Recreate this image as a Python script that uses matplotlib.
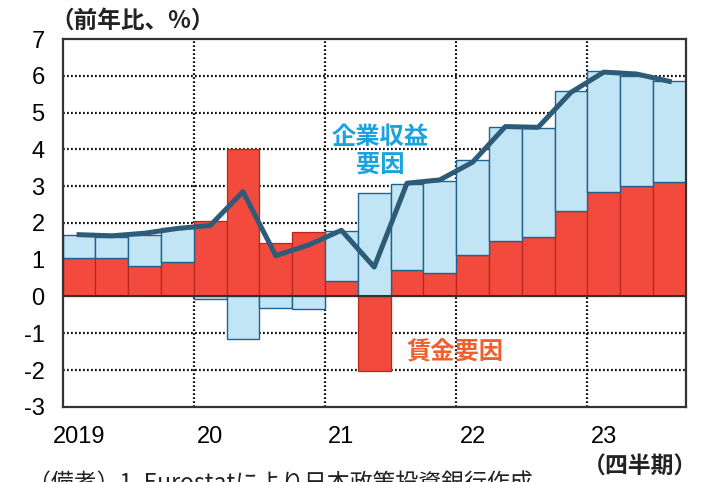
import matplotlib
matplotlib.use("Agg")
import matplotlib.pyplot as plt
import numpy as np

plt.rcParams['font.family'] = ['Liberation Sans', 'Noto Sans CJK JP', 'DejaVu Sans']

quarters = ["2019Q1", "2019Q2", "2019Q3", "2019Q4",
            "2020Q1", "2020Q2", "2020Q3", "2020Q4",
            "2021Q1", "2021Q2", "2021Q3", "2021Q4",
            "2022Q1", "2022Q2", "2022Q3", "2022Q4",
            "2023Q1", "2023Q2", "2023Q3"]
wage = [1.05, 1.05, 0.84, 0.95, 2.04, 4.00, 1.45, 1.75, 0.41, -2.03,
        0.71, 0.64, 1.14, 1.52, 1.62, 2.32, 2.83, 3.00, 3.12]
profit = [0.63, 0.58, 0.82, 0.90, -0.08, -1.15, -0.30, -0.35, 1.38, 2.81,
          2.35, 2.51, 2.57, 3.10, 2.96, 3.26, 3.29, 3.00, 2.75]
total = [1.68, 1.65, 1.72, 1.85, 1.93, 2.85, 1.11, 1.40, 1.80, 0.80,
         3.08, 3.17, 3.65, 4.62, 4.60, 5.55, 6.10, 6.05, 5.85]
year_labels = ["2019", "20", "21", "22", "23"]
yticks = [-3, -2, -1, 0, 1, 2, 3, 4, 5, 6, 7]

fig = plt.figure(figsize=(7.04, 4.82), dpi=100)
ax = fig.add_axes([0.089, 0.156, 0.885, 0.763])

x = np.arange(len(quarters))
w = np.array(wage)
p = np.array(profit)
bottom = np.where(np.sign(p) == np.sign(w), w, 0.0)

# dotted grid (behind bars)
for yv in yticks:
    if yv not in (-3, 0, 7):
        ax.axhline(yv, color='#111111', lw=1.6, ls=(0, (0.8, 1.0)), zorder=1)
for b in [3.5, 7.5, 11.5, 15.5]:
    ax.axvline(b, color='#111111', lw=1.6, ls=(0, (0.8, 1.0)), zorder=1)

ax.bar(x, w, width=1.0, color='#F24B3D', edgecolor='#B8261C', linewidth=0.9, zorder=2)
ax.bar(x, p, width=1.0, bottom=bottom, color='#C2E5F6', edgecolor='#1F6390', linewidth=1.0, zorder=2)
ax.axhline(0, color='#333333', lw=1.5, zorder=3)
ax.plot(x, total, color='#2D5B78', lw=3.6, zorder=4, solid_joinstyle='round')

ax.set_xlim(-0.5, len(quarters) - 0.5)
ax.set_ylim(-3, 7)
ax.set_yticks(yticks)
ax.set_yticklabels([str(v) for v in yticks], fontsize=17)
ax.set_xticks([0, 4, 8, 12, 16])
ax.set_xticklabels(year_labels, fontsize=17)
ax.tick_params(axis='y', length=0, pad=13)
ax.tick_params(axis='x', length=0, pad=14)
for s in ax.spines.values():
    s.set_color('#333333')
    s.set_linewidth(1.6)

cjk = ['Noto Sans CJK JP', 'DejaVu Sans']
fig.text(0.072, 0.958, '（前年比、%）', fontsize=17, family=cjk, weight='semibold', ha='left', va='center', color='#222222')
fig.text(380 / 704, 1 - 137 / 482, '企業収益', fontsize=17.5, family=cjk, weight='bold', color='#1BA3DE', ha='center', va='center')
fig.text(380 / 704, 1 - 165 / 482, '要因', fontsize=17.5, family=cjk, weight='bold', color='#1BA3DE', ha='center', va='center')
fig.text(455 / 704, 1 - 352 / 482, '賃金要因', fontsize=17.5, family=cjk, weight='bold', color='#F0602E', ha='center', va='center')
fig.text(640 / 704, 1 - 467 / 482, '（四半期）', fontsize=16.5, family=cjk, weight='semibold', ha='center', va='center', color='#222222')
fig.text(0.04, 1 - 473 / 482, '（備考）1. Eurostatにより日本政策投資銀行作成', fontsize=16.5, family=cjk, ha='left', va='top', color='#222222')

fig.savefig('out.png', dpi=100)
